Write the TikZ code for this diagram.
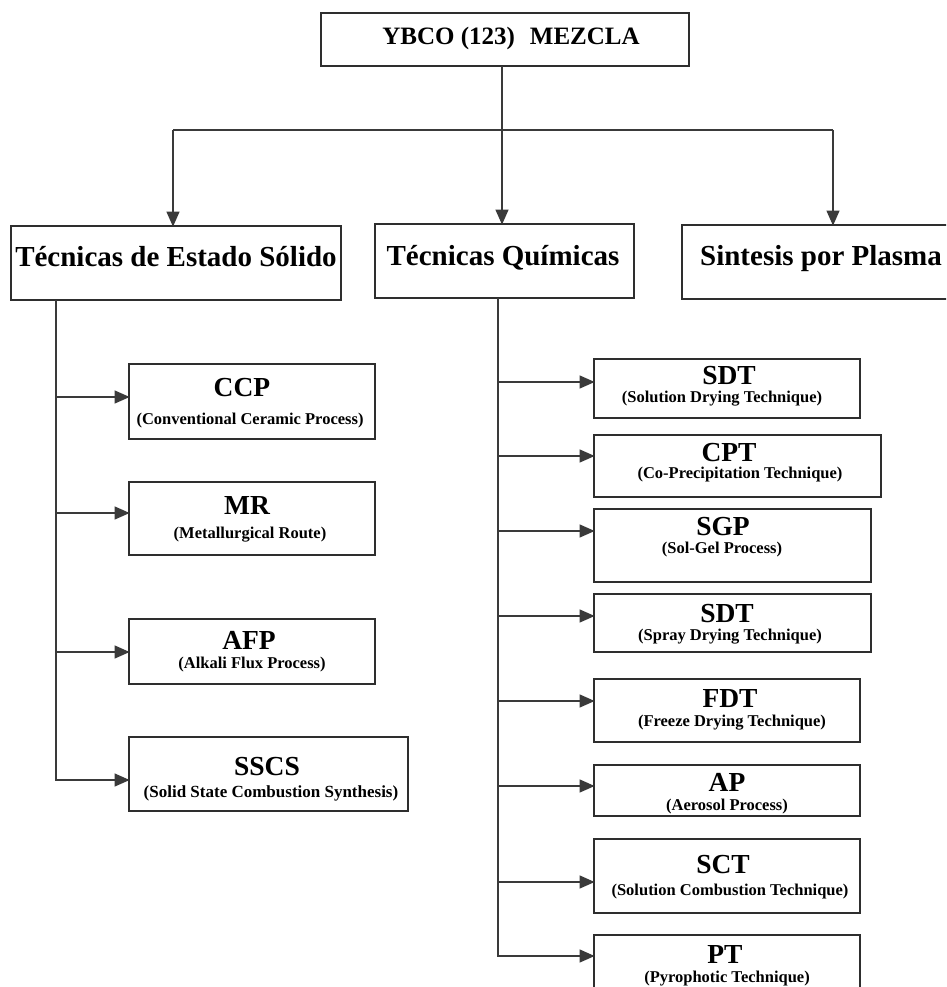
\documentclass[tikz,border=0pt]{standalone}
\usepackage{fontspec}
\setmainfont{Liberation Serif}
\usetikzlibrary{arrows.meta}
\definecolor{linegray}{HTML}{3A3A3A}
\definecolor{boxgray}{HTML}{2E2E2E}
\tikzset{
  boxframe/.style={draw=boxgray, line width=1.2pt, rectangle, inner sep=0pt, outer sep=0pt, fill=white},
  conn/.style={draw=linegray, line width=1.2pt},
  arr/.style={conn, -{Triangle[length=15pt,width=13pt]}, shorten >=-0.6pt},
  lbl/.style={anchor=base, inner sep=0pt, text=black},
  headfont/.style={font=\fontsize{25}{28}\selectfont\bfseries},
  midfont/.style={font=\fontsize{29}{32}\selectfont\bfseries},
  ttlfont/.style={font=\fontsize{27.5}{30}\selectfont\bfseries, text depth=0pt},
  subfont/.style={font=\fontsize{16.5}{18}\selectfont\bfseries, text height=10pt},
}
% \techframe{name}{x1}{x2}{y1}{y2}: empty box spanning the given edges
\newcommand{\techframe}[5]{%
  \node[boxframe, minimum width={#3-#2}, minimum height={#5-#4}]
    (#1) at ({(#2+#3)/2},{(#4+#5)/2}) {};
}
% \techtext{name}{title}{title baseline}{title x}{subtitle}{sub baseline}{sub x}
\newcommand{\techtext}[7]{%
  \node[lbl, ttlfont] (#1-t) at (#4,#3) {#2};
  \node[lbl, subfont] (#1-s) at (#7,#6) {#5};
}
\begin{document}
\begin{tikzpicture}[x=1pt, y=-1pt]
  \useasboundingbox (0,0) rectangle (946,987);
  \clip (0,0) rectangle (946,987);
  \fill[white] (0,0) rectangle (946,987);

  % root
  \node[boxframe, minimum width=368, minimum height=53] (top) at (505,39.5) {};
  \node[lbl, headfont] (top-t) at (511,45) {YBCO (123)\hspace{0.35em} MEZCLA};

  % technique families
  \node[boxframe, minimum width=330, minimum height=74] (tes) at (176,263) {};
  \node[lbl, midfont] (tes-t) at (176,266) {Técnicas de Estado Sólido};
  \node[boxframe, minimum width=259, minimum height=74] (tq) at (504.5,261) {};
  \node[lbl, midfont] (tq-t) at (503,265) {Técnicas Químicas};
  \node[boxframe, minimum width=278, minimum height=74] (sp) at (821,262) {};
  \node[lbl, midfont] (sp-t) at (821,265) {Sintesis por Plasma};

  % solid state techniques
  \techframe{ccp}{129}{375}{364}{439}
  \techtext{ccp}{CCP}{396}{242}{(Conventional Ceramic Process)}{424}{250}
  \techframe{mr}{129}{375}{482}{555}
  \techtext{mr}{MR}{514}{247}{(Metallurgical Route)}{538}{250}
  \techframe{afp}{129}{375}{619}{684}
  \techtext{afp}{AFP}{649}{249}{(Alkali Flux Process)}{668}{252}
  \techframe{sscs}{129}{408}{737}{811}
  \node[lbl, ttlfont] (sscs-t) at (267,775) {SSCS};
  \node[lbl, subfont, font=\fontsize{17}{19}\selectfont\bfseries] (sscs-s) at (271,797) {(Solid State Combustion Synthesis)};

  % chemical techniques
  \techframe{sdt}{594}{860}{359}{418}
  \techtext{sdt}{SDT}{384}{729}{(Solution Drying Technique)}{402}{722}
  \techframe{cpt}{594}{881}{435}{497}
  \techtext{cpt}{CPT}{461}{729}{(Co-Precipitation Technique)}{478}{740}
  \techframe{sgp}{594}{871}{509}{582}
  \techtext{sgp}{SGP}{535}{723}{(Sol-Gel Process)}{553}{722}
  \techframe{spdt}{594}{871}{594}{652}
  \techtext{spdt}{SDT}{622}{727}{(Spray Drying Technique)}{640}{730}
  \techframe{fdt}{594}{860}{679}{742}
  \techtext{fdt}{FDT}{707}{730}{(Freeze Drying Technique)}{726}{732}
  \techframe{ap}{594}{860}{765}{816}
  \techtext{ap}{AP}{791}{727}{(Aerosol Process)}{810}{727}
  \techframe{sct}{594}{860}{839}{913}
  \techtext{sct}{SCT}{873}{723}{(Solution Combustion Technique)}{895}{730}
  \techframe{pt}{594}{860}{935}{1000}
  \techtext{pt}{PT}{963}{725}{(Pyrophotic Technique)}{982}{727}

  % root to families
  \coordinate (jl) at (173,130);
  \coordinate (jc) at (502,130);
  \coordinate (jr) at (833,130);
  \draw[conn] (top.south -| jc) -- (jc);
  \draw[conn] (jl) -- (jr);
  \draw[arr] (jl) -- (tes.north -| jl);
  \draw[arr] (jc) -- (tq.north -| jc);
  \draw[arr] (jr) -- (sp.north -| jr);

  % solid state branch
  \coordinate (l1) at (56,397);
  \coordinate (l2) at (56,513);
  \coordinate (l3) at (56,652);
  \coordinate (l4) at (56,780);
  \draw[arr] (tes.south -| l4) -- (l4) -- (sscs.west |- l4);
  \draw[arr] (l1) -- (ccp.west |- l1);
  \draw[arr] (l2) -- (mr.west |- l2);
  \draw[arr] (l3) -- (afp.west |- l3);

  % chemical branch
  \coordinate (r1) at (498,382);
  \coordinate (r2) at (498,456);
  \coordinate (r3) at (498,531);
  \coordinate (r4) at (498,616);
  \coordinate (r5) at (498,701);
  \coordinate (r6) at (498,786);
  \coordinate (r7) at (498,882);
  \coordinate (r8) at (498,956);
  \draw[arr] (tq.south -| r8) -- (r8) -- (pt.west |- r8);
  \draw[arr] (r1) -- (sdt.west |- r1);
  \draw[arr] (r2) -- (cpt.west |- r2);
  \draw[arr] (r3) -- (sgp.west |- r3);
  \draw[arr] (r4) -- (spdt.west |- r4);
  \draw[arr] (r5) -- (fdt.west |- r5);
  \draw[arr] (r6) -- (ap.west |- r6);
  \draw[arr] (r7) -- (sct.west |- r7);
\end{tikzpicture}
\end{document}
